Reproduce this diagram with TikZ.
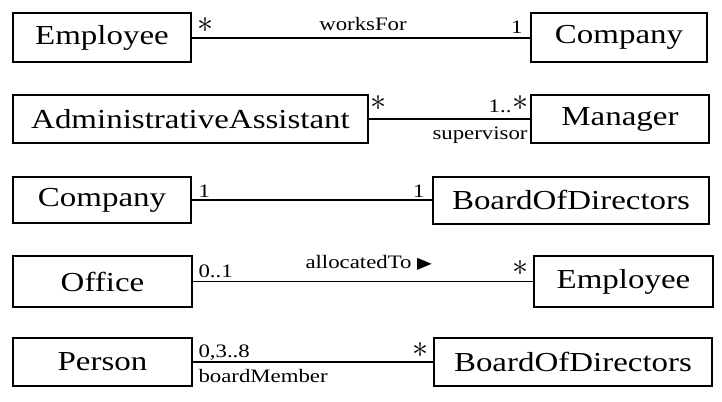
\documentclass[tikz,border=0pt]{standalone}
\usepackage{fontspec}
\usepackage{graphicx}
\setmainfont{Liberation Serif}
\newfontfamily\symfont{DejaVu Sans}

\newcommand{\clsname}[1]{\scalebox{1.2}[1]{\fontsize{20.6}{24}\selectfont #1}}
\newcommand{\rolelbl}[1]{\scalebox{1.2}[1]{\fontsize{14.25}{17}\selectfont #1}}
\newcommand{\mstar}{\scalebox{2.4}{$\ast$}}

\tikzset{every picture/.style={line width=0.75pt}}
\tikzset{cls/.style={draw, line width=1.5pt, inner sep=0pt, outer sep=0pt},
         lbl/.style={inner sep=0pt},
         assoc/.style={line width=1.5pt}}

\begin{document}
\begin{tikzpicture}[x=0.75pt,y=0.75pt,yscale=-1,xscale=1]
\useasboundingbox (0,0) rectangle (722,401);

%Shape: Rectangle [id:emp1]
\node [cls, minimum width=133.5pt, minimum height=36.75pt] (emp1) at (102,37.5) {\clsname{Employee}};
%Shape: Rectangle [id:comp1]
\node [cls, minimum width=132pt, minimum height=36.75pt] (comp1) at (619,37.5) {\clsname{Company}};
%Shape: Rectangle [id:admin]
\node [cls, minimum width=266.25pt, minimum height=36pt] (admin) at (190.5,119) {\clsname{AdministrativeAssistant}};
%Shape: Rectangle [id:mgr]
\node [cls, minimum width=133.5pt, minimum height=36pt] (mgr) at (620,119) {\clsname{Manager}};
%Shape: Rectangle [id:comp3]
\node [cls, minimum width=133.5pt, minimum height=34.5pt] (comp3) at (102,200) {\clsname{Company}};
%Shape: Rectangle [id:bod3]
\node [cls, minimum width=207pt, minimum height=35.25pt] (bod3) at (571,200) {\clsname{BoardOfDirectors}};
%Shape: Rectangle [id:office]
\node [cls, minimum width=134.25pt, minimum height=38.25pt] (office) at (102.5,281.5) {\clsname{Office}};
%Shape: Rectangle [id:emp4]
\node [cls, minimum width=134.25pt, minimum height=38.25pt] (emp4) at (623.5,281.5) {\clsname{Employee}};
%Shape: Rectangle [id:person]
\node [cls, minimum width=134.25pt, minimum height=36pt] (person) at (102.5,361.5) {\clsname{Person}};
%Shape: Rectangle [id:bod5]
\node [cls, minimum width=208.5pt, minimum height=36pt] (bod5) at (573,361.5) {\clsname{BoardOfDirectors}};

%Straight Lines [id:worksfor]
\draw [assoc] (emp1.east) -- (comp1.west) ;
%Straight Lines [id:supervises]
\draw [assoc] (admin.east) -- (mgr.west) ;
%Straight Lines [id:board]
\draw [assoc, line width=2.2pt] (comp3.east) -- (bod3.west) ;
%Straight Lines [id:allocated]
\draw [assoc, line width=1pt] (office.east) -- (emp4.west) ;
%Straight Lines [id:member]
\draw [assoc] (person.east) -- (bod5.west) ;

% Text Node
\node [lbl] (m1a) at (205,25) {\mstar};
% Text Node
\node [lbl, anchor=base] (n1) at (363,30) {\rolelbl{worksFor}};
% Text Node
\node [lbl, anchor=base east] (m1b) at (523,33) {\rolelbl{1}};
% Text Node
\node [lbl] (m2a) at (378.5,103) {\mstar};
% Text Node
\node [lbl, anchor=base east] (m2b) at (512,112) {\rolelbl{1..}};
% Text Node
\node [lbl] (m2c) at (520.5,103) {\mstar};
% Text Node
\node [lbl, anchor=base east] (r2) at (528,139) {\rolelbl{supervisor}};
% Text Node
\node [lbl, anchor=base west] (m3a) at (198,197) {\rolelbl{1}};
% Text Node
\node [lbl, anchor=base east] (m3b) at (425,197) {\rolelbl{1}};
% Text Node
\node [lbl, anchor=base west] (m4a) at (198,277) {\rolelbl{0..1}};
% Text Node
\node [lbl, anchor=base west] (n4) at (305,268) {\rolelbl{allocatedTo {\symfont\fontsize{12}{12}\selectfont ▶}}};
% Text Node
\node [lbl] (m4b) at (520,268) {\mstar};
% Text Node
\node [lbl, anchor=base west] (m5a) at (198,357) {\rolelbl{0,3..8}};
% Text Node
\node [lbl, anchor=base west] (r5) at (198,382) {\rolelbl{boardMember}};
% Text Node
\node [lbl] (m5b) at (420,350) {\mstar};
\end{tikzpicture}
\end{document}
